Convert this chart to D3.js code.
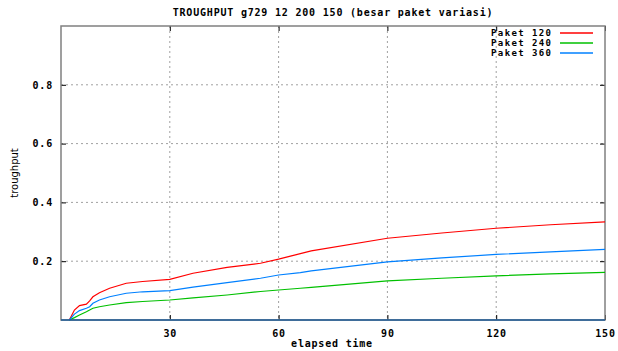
<!DOCTYPE html>
<html>
<head>
<meta charset="utf-8">
<script src="https://cdn.jsdelivr.net/npm/d3@7"></script>
<style>
body { margin: 0; background: #fff; }
text { font-family: "DejaVu Sans Mono", monospace; font-weight: bold; font-size: 10px; letter-spacing: 0.8px; fill: #000; }
</style>
</head>
<body>
<svg width="618" height="351"></svg>
<script>
// elapsed time samples
const TIMES = [2.3, 3.7, 5.1, 7, 7.9, 8.8, 10.6, 13.4, 18, 22.5, 30, 36.4, 45.8, 55, 60, 66, 69, 90, 105, 120, 135, 150];

const PAKET_120 = [0, 0.034, 0.049, 0.054, 0.065, 0.079, 0.093, 0.108, 0.125, 0.131, 0.138, 0.159, 0.179, 0.193, 0.207, 0.226, 0.235, 0.278, 0.296, 0.312, 0.324, 0.334];
const PAKET_240 = [0, 0.008, 0.017, 0.028, 0.034, 0.040, 0.045, 0.051, 0.059, 0.063, 0.068, 0.075, 0.085, 0.097, 0.102, 0.108, 0.111, 0.133, 0.142, 0.150, 0.157, 0.162];
const PAKET_360 = [0, 0.020, 0.032, 0.040, 0.045, 0.057, 0.068, 0.079, 0.091, 0.096, 0.100, 0.112, 0.127, 0.142, 0.153, 0.161, 0.167, 0.198, 0.211, 0.223, 0.232, 0.240];

const SERIES_NAMES = ['Paket 120', 'Paket 240', 'Paket 360'];
const X_TICKS = [30, 60, 90, 120, 150];
const Y_TICKS = [0.2, 0.4, 0.6, 0.8];

const COLORS = ['#ff0000', '#00c000', '#0080ff'];
const LEFT = 61, RIGHT = 605, TOP = 26, BOTTOM = 320;

const svg = d3.select('svg');

const x = d3.scaleLinear().domain([0, 150]).range([LEFT, RIGHT]);
const y = d3.scaleLinear().domain([0, 1]).range([BOTTOM, TOP]);

// grid
svg.append('g')
  .selectAll('line.gx')
  .data(X_TICKS.slice(0, -1))
  .enter()
  .append('line')
  .attr('x1', d => x(d)).attr('x2', d => x(d))
  .attr('y1', TOP).attr('y2', BOTTOM)
  .attr('stroke', '#a0a0a0').attr('stroke-dasharray', '2,3');

svg.append('g')
  .selectAll('line.gy')
  .data(Y_TICKS)
  .enter()
  .append('line')
  .attr('x1', LEFT).attr('x2', RIGHT)
  .attr('y1', d => y(d)).attr('y2', d => y(d))
  .attr('stroke', '#a0a0a0').attr('stroke-dasharray', '2,3');

// axes (ticks inward, mirrored on top/right)
const xAxis = svg.append('g')
  .attr('transform', `translate(0, ${BOTTOM})`)
  .call(d3.axisBottom(x).tickValues(X_TICKS).tickSizeInner(-5).tickSizeOuter(0).tickPadding(10).tickFormat(d3.format('d')));
const xTop = svg.append('g')
  .attr('transform', `translate(0, ${TOP})`)
  .call(d3.axisTop(x).tickValues(X_TICKS).tickSizeInner(-5).tickSizeOuter(0).tickFormat(''));
const yAxis = svg.append('g')
  .attr('transform', `translate(${LEFT}, 0)`)
  .call(d3.axisLeft(y).tickValues(Y_TICKS).tickSizeInner(-5).tickSizeOuter(0).tickPadding(8).tickFormat(d3.format('.1f')));
const yRight = svg.append('g')
  .attr('transform', `translate(${RIGHT}, 0)`)
  .call(d3.axisRight(y).tickValues(Y_TICKS).tickSizeInner(-5).tickSizeOuter(0).tickFormat(''));

[xAxis, xTop, yAxis, yRight].forEach(a => {
  a.select('.domain').remove();
  a.selectAll('.tick line').attr('stroke', '#000');
  a.selectAll('text').attr('font-family', null).attr('font-size', null)
    .style('font-family', '"DejaVu Sans Mono", monospace').style('font-weight', 'bold')
    .style('font-size', '10px').style('letter-spacing', '0.8px');
});

// border
svg.append('rect')
  .attr('x', LEFT).attr('y', TOP)
  .attr('width', RIGHT - LEFT).attr('height', BOTTOM - TOP)
  .attr('fill', 'none').attr('stroke', '#808080').attr('stroke-width', 1.5);

// lines
const seriesData = [PAKET_120, PAKET_240, PAKET_360].map((vals, k) => ({vals, color: COLORS[k]}));
const line = d3.line().x((d, i) => x(TIMES[i])).y(d => y(d));

svg.append('g')
  .selectAll('path')
  .data(seriesData)
  .enter()
  .append('path')
  .attr('d', d => line(d.vals))
  .attr('fill', 'none')
  .attr('stroke', d => d.color)
  .attr('stroke-width', 1.2);

// zero baseline drawn in blue
svg.append('line')
  .attr('x1', LEFT).attr('x2', RIGHT)
  .attr('y1', y(0)).attr('y2', y(0))
  .attr('stroke', '#1f5c99').attr('stroke-width', 1.5);

// legend
const legendData = SERIES_NAMES.map((name, k) => ({name, color: COLORS[k], row: k}));
const legend = svg.append('g')
  .selectAll('g')
  .data(legendData)
  .enter()
  .append('g')
  .attr('transform', d => `translate(0, ${36 + d.row * 10})`);
legend.append('text')
  .attr('x', 491)
  .style('font-size', '9px')
  .style('letter-spacing', '1.4px')
  .text(d => d.name);
legend.append('line')
  .attr('x1', 560).attr('x2', 593)
  .attr('y1', -3).attr('y2', -3)
  .style('stroke', d => d.color)
  .style('stroke-width', '1.5px');

// titles
svg.append('text')
  .attr('x', 333).attr('y', 16)
  .attr('text-anchor', 'middle')
  .text('TROUGHPUT g729 12 200 150 (besar paket variasi)');

svg.append('text')
  .attr('x', 332).attr('y', 347)
  .attr('text-anchor', 'middle')
  .text('elapsed time');

svg.append('text')
  .attr('transform', 'translate(18, 173) rotate(-90)')
  .attr('text-anchor', 'middle')
  .style('font-family', '"DejaVu Sans", sans-serif')
  .style('font-weight', 'normal')
  .style('letter-spacing', '0')
  .text('troughput');
</script>
</body>
</html>
